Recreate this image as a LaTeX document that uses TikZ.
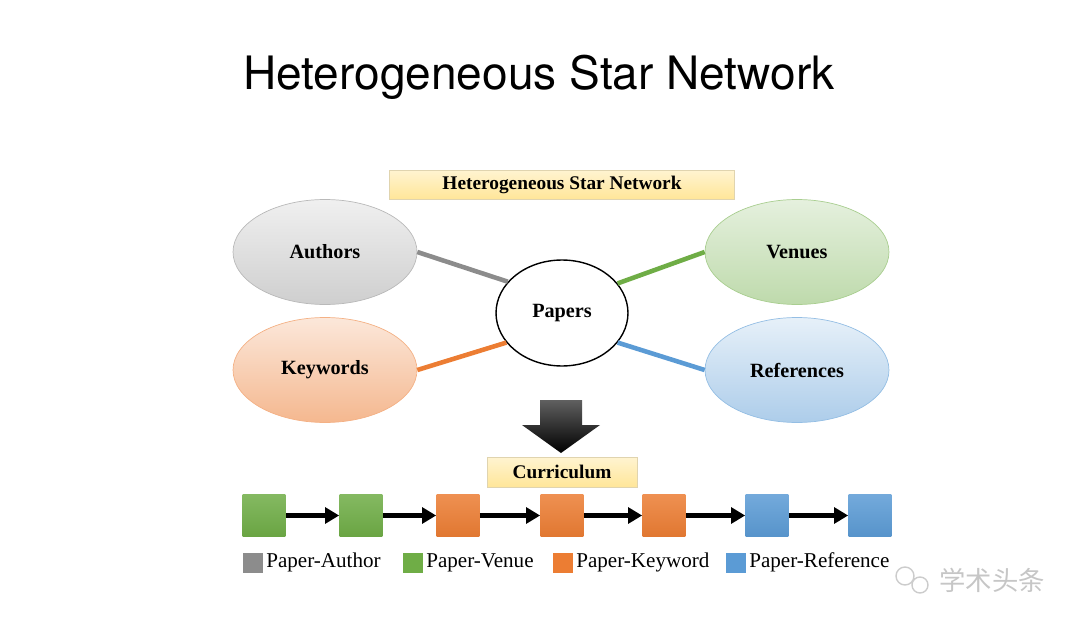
\documentclass[tikz,border=0pt]{standalone}
\usepackage{fontspec}
\setmainfont{Liberation Serif}
\newfontfamily\headfont{TeX Gyre Heros}
\newfontfamily\cjkfont{Noto Sans CJK SC}
\usetikzlibrary{shapes.geometric,arrows.meta}
\definecolor{authgray}{HTML}{8C8C8C}
\definecolor{venuegreen}{HTML}{6FAD46}
\definecolor{keyorange}{HTML}{EC7D33}
\definecolor{refblue}{HTML}{5B9BD5}
\definecolor{labelyellow}{HTML}{FFE699}
\tikzset{
  entity/.style={ellipse,minimum width=3.68cm,minimum height=2.1cm,
    font=\fontsize{11.5}{13}\selectfont\bfseries},
  labelbox/.style={inner sep=0pt,top color=labelyellow!45,bottom color=labelyellow,
    draw=labelyellow!80!black!60,line width=0.3pt,
    font=\fontsize{11}{13}\selectfont\bfseries},
  edge/.style={line width=2.6pt},
  block/.style={minimum size=0.86cm,inner sep=0pt},
  key/.style={minimum size=0.4cm,inner sep=0pt},
  step arrow/.style={line width=2.4pt,-{Triangle[length=8pt,width=9pt]}},
}
\begin{document}
\begin{tikzpicture}[x=0.02cm,y=-0.02cm]
  \useasboundingbox (0,0) rectangle (1080,632);
  \node[font=\headfont\fontsize{26.2}{30}\selectfont] (title) at (539,77)
    {Heterogeneous Star Network};
  \node[labelbox,minimum width=6.9cm,minimum height=0.58cm] (net) at (562,184.5)
    {Heterogeneous Star Network};
  % entity types round the papers
  \node[entity,top color=gray!12,bottom color=gray!38,draw=gray!55] (authors) at (325,252) {Authors};
  \node[entity,top color=venuegreen!18,bottom color=venuegreen!45,draw=venuegreen!60] (venues) at (797,252) {Venues};
  \node[entity,top color=keyorange!18,bottom color=keyorange!55,draw=keyorange!60] (keywords) at (325,370) {Keywords};
  \node[entity,top color=refblue!15,bottom color=refblue!50,draw=refblue!65] (refs) at (797,370) {References};
  \node[ellipse,draw,line width=0.8pt,fill=white,minimum width=2.64cm,minimum height=2.12cm,
    font=\fontsize{11.5}{13}\selectfont\bfseries] (papers) at (562,313) {Papers};
  \draw[edge,authgray] (authors.east) -- (papers.150);
  \draw[edge,venuegreen] (papers.28) -- (venues.west);
  \draw[edge,keyorange] (papers.208) -- (keywords.east);
  \draw[edge,refblue] (papers.-28) -- (refs.west);
  % big arrow down
  \shade[top color=gray!75!black,bottom color=black]
    (540,400) -- (582,400) -- (582,425) -- (600,425) -- (561,453)
    -- (522,425) -- (540,425) -- cycle;
  \node[labelbox,minimum width=3cm,minimum height=0.6cm] (curr) at (562,472) {Curriculum};
  % the curriculum sequence
  \foreach \x/\c [count=\i] in {264/venuegreen,361/venuegreen,458/keyorange,562/keyorange,
      664/keyorange,767/refblue,870/refblue}
    \node[block,top color=\c!85,bottom color=\c!95!black] (b\i) at (\x,515.5) {};
  \foreach \i [evaluate=\i as \j using int(\i+1)] in {1,...,6}
    \draw[step arrow] (b\i) -- (b\j);
  % legend
  \foreach \x/\c/\t [count=\i] in {253/authgray/Paper-Author,413/venuegreen/Paper-Venue,
      563/keyorange/Paper-Keyword,736/refblue/Paper-Reference}
    \node[key,fill=\c,label={[font=\fontsize{12}{14}\selectfont,inner sep=1.5pt,
      text height=0.72em,text depth=0.22em]east:\t}] (k\i) at (\x,563) {};
  % watermark
  \node[font=\cjkfont\fontsize{15}{17}\selectfont,text=gray!45] (mark) at (992,580) {学术头条};
  \draw[gray!40,line width=0.8pt] (905,576) circle (9) (920,585) circle (8);
\end{tikzpicture}
\end{document}
